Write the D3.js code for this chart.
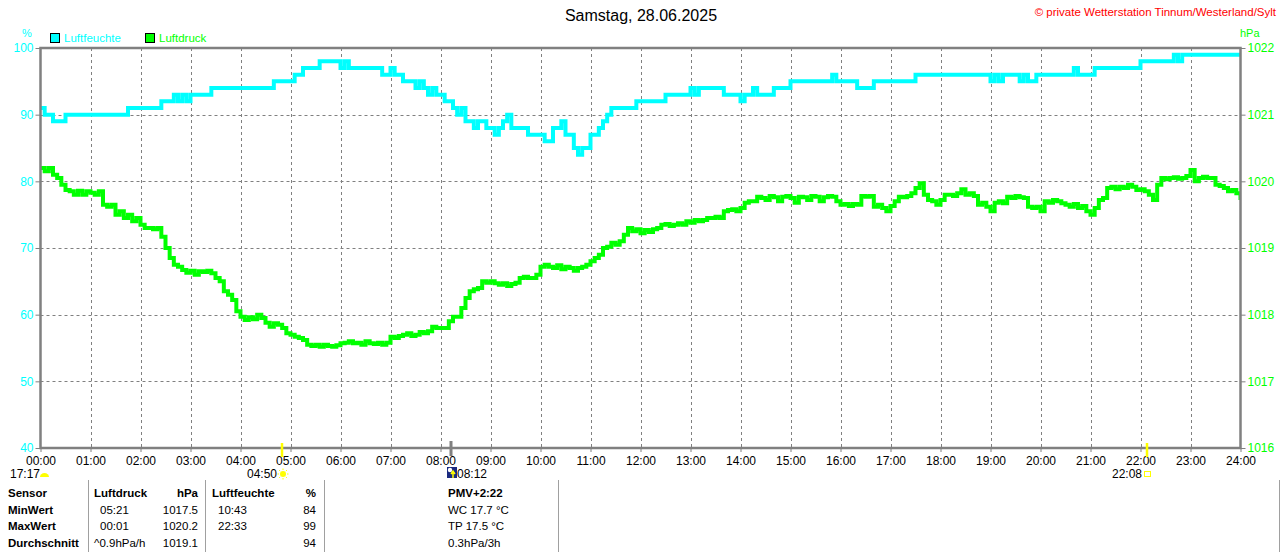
<!DOCTYPE html>
<html><head><meta charset="utf-8">
<script src="https://cdn.jsdelivr.net/npm/d3@7"></script>
<style>
html,body{margin:0;padding:0;background:#fff;}
svg{display:block;font-family:"Liberation Sans",Arial,sans-serif;}
</style></head>
<body>
<svg id="c" width="1280" height="552"></svg>
<script>
// ---------- DATA (5-minute values, 00:00 .. 24:00) ----------
const title = "Samstag, 28.06.2025";
const copyright = "© private Wetterstation Tinnum/Westerland/Sylt";
const hourLabels = ["00:00","01:00","02:00","03:00","04:00","05:00","06:00","07:00","08:00","09:00","10:00","11:00","12:00","13:00","14:00","15:00","16:00","17:00","18:00","19:00","20:00","21:00","22:00","23:00","24:00"];
const humidityTicks = [40,50,60,70,80,90,100];
const pressureTicks = [1016,1017,1018,1019,1020,1021,1022];
const seriesNames = ["Luftfeuchte","Luftdruck"];

const humidity = [
 91,90,90,89,89,89,90,90,90,90,90,90,
 90,90,90,90,90,90,90,90,90,91,91,91,
 91,91,91,91,91,92,92,92,93,92,93,92,
 93,93,93,93,93,94,94,94,94,94,94,94,
 94,94,94,94,94,94,94,94,95,95,95,95,
 95,96,96,97,97,97,97,98,98,98,98,98,
 97,98,97,97,97,97,97,97,97,97,96,96,
 97,96,96,95,95,95,94,95,94,93,94,93,
 93,92,92,91,90,91,89,89,88,89,89,88,
 88,87,88,89,90,88,88,88,88,87,87,87,
 87,86,86,88,88,89,87,87,85,84,85,85,
 87,87,88,89,90,91,91,91,91,91,91,92,
 92,92,92,92,92,92,93,93,93,93,93,93,
 94,93,94,94,94,94,94,94,93,93,93,93,
 92,93,93,94,93,93,93,93,94,94,94,94,
 95,95,95,95,95,95,95,95,95,95,96,95,
 95,95,95,95,94,94,94,94,95,95,95,95,
 95,95,95,95,95,95,96,96,96,96,96,96,
 96,96,96,96,96,96,96,96,96,96,96,96,
 95,96,95,96,96,96,96,95,96,95,95,96,
 96,96,96,96,96,96,96,96,97,96,96,96,
 96,97,97,97,97,97,97,97,97,97,97,97,
 98,98,98,98,98,98,98,98,99,98,99,99,
 99,99,99,99,99,99,99,99,99,99,99,99,
 99
];

const pressure = [
 1020.2,1020.15,1020.2,1020.1,1020.05,1019.95,1019.87,1019.85,1019.8,1019.86,1019.8,1019.85,
 1019.83,1019.8,1019.85,1019.65,1019.62,1019.65,1019.5,1019.55,1019.45,1019.5,1019.4,1019.45,
 1019.35,1019.3,1019.3,1019.28,1019.3,1019.17,1019.0,1018.85,1018.75,1018.72,1018.67,1018.63,
 1018.66,1018.6,1018.65,1018.64,1018.66,1018.62,1018.55,1018.5,1018.35,1018.3,1018.22,1018.05,
 1017.97,1017.92,1017.96,1017.93,1018.0,1017.95,1017.88,1017.82,1017.87,1017.85,1017.8,1017.72,
 1017.7,1017.67,1017.65,1017.62,1017.55,1017.53,1017.55,1017.52,1017.55,1017.53,1017.52,1017.54,
 1017.57,1017.58,1017.6,1017.57,1017.58,1017.55,1017.6,1017.57,1017.56,1017.58,1017.55,1017.58,
 1017.67,1017.65,1017.68,1017.7,1017.72,1017.68,1017.7,1017.74,1017.72,1017.75,1017.82,1017.8,
 1017.8,1017.8,1017.9,1017.97,1017.97,1018.1,1018.25,1018.35,1018.38,1018.4,1018.5,1018.48,
 1018.5,1018.47,1018.45,1018.47,1018.43,1018.46,1018.48,1018.55,1018.57,1018.55,1018.55,1018.6,
 1018.72,1018.75,1018.72,1018.7,1018.74,1018.68,1018.72,1018.7,1018.66,1018.7,1018.72,1018.75,
 1018.8,1018.85,1018.9,1019.0,1019.02,1019.08,1019.05,1019.1,1019.2,1019.3,1019.25,1019.28,
 1019.22,1019.27,1019.24,1019.28,1019.3,1019.35,1019.36,1019.33,1019.35,1019.37,1019.35,1019.4,
 1019.38,1019.42,1019.4,1019.42,1019.45,1019.45,1019.47,1019.45,1019.55,1019.57,1019.58,1019.55,
 1019.6,1019.68,1019.7,1019.7,1019.77,1019.75,1019.72,1019.78,1019.76,1019.7,1019.77,1019.78,
 1019.75,1019.68,1019.77,1019.76,1019.72,1019.78,1019.77,1019.7,1019.76,1019.78,1019.77,1019.7,
 1019.65,1019.66,1019.63,1019.66,1019.65,1019.78,1019.77,1019.78,1019.62,1019.65,1019.6,1019.55,
 1019.63,1019.7,1019.77,1019.76,1019.78,1019.82,1019.9,1019.97,1019.8,1019.72,1019.7,1019.65,
 1019.72,1019.8,1019.8,1019.78,1019.82,1019.88,1019.8,1019.82,1019.78,1019.65,1019.68,1019.62,
 1019.55,1019.68,1019.7,1019.67,1019.77,1019.75,1019.78,1019.76,1019.75,1019.62,1019.6,1019.62,
 1019.55,1019.7,1019.68,1019.72,1019.7,1019.67,1019.65,1019.62,1019.66,1019.6,1019.63,1019.55,
 1019.5,1019.6,1019.72,1019.75,1019.9,1019.92,1019.88,1019.92,1019.9,1019.95,1019.92,1019.87,
 1019.88,1019.85,1019.8,1019.72,1019.95,1020.05,1020.03,1020.05,1020.06,1020.04,1020.05,1020.08,
 1020.17,1020.0,1020.05,1020.07,1020.05,1020.05,1019.95,1019.93,1019.9,1019.85,1019.87,1019.82,
 1019.72
];

// events under the time axis
const sunTimes = ["04:50","22:08"];
const moonRise = "08:12";
const moonSet = "17:17";

// statistics table
const tableHeader = ["Sensor","Luftdruck","hPa","Luftfeuchte","%","PMV+2:22"];
const rowNames = ["MinWert","MaxWert","Durchschnitt"];
const pressTimes = ["05:21","00:01","^0.9hPa/h"];
const pressVals = ["1017.5","1020.2","1019.1"];
const humTimes = ["10:43","22:33",""];
const humVals = ["84","99","94"];
const extraInfo = ["WC 17.7 °C","TP 17.5 °C","0.3hPa/3h"];

// ---------- DRAW ----------
const svg = d3.select("#c");
const CYAN = "#00FFFF", GREEN = "#00FF00", GREY = "#808080";
const L = 40.5, R = 1240.5, T = 48, B = 448;
const toMin = s => { const [h,m] = s.split(":").map(Number); return h*60+m; };

const x = d3.scaleLinear().domain([0,1440]).range([L,R]);
const yH = d3.scaleLinear().domain([40,100]).range([B,T]);
const yP = d3.scaleLinear().domain([1016,1022]).range([B,T]);

// title & copyright
svg.append("text").attr("x",641).attr("y",21).attr("text-anchor","middle")
  .attr("font-size",16).attr("fill","#000").text(title);
svg.append("text").attr("x",1276).attr("y",16).attr("text-anchor","end")
  .attr("font-size",11.5).attr("fill","#FF0000").text(copyright);

// units
svg.append("text").attr("x",27).attr("y",37).attr("text-anchor","middle")
  .attr("font-size",11).attr("fill",CYAN).text("%");
svg.append("text").attr("x",1240).attr("y",37)
  .attr("font-size",11).attr("fill",GREEN).text("hPa");

// legend
const legend = [{name:seriesNames[0],c:CYAN,x:50},{name:seriesNames[1],c:GREEN,x:145}];
legend.forEach(d=>{
  svg.append("rect").attr("x",d.x+0.5).attr("y",33.5).attr("width",9).attr("height",9)
    .attr("fill",d.c).attr("stroke","#000").attr("stroke-width",1);
  svg.append("text").attr("x",d.x+14).attr("y",42).attr("font-size",11.5)
    .attr("fill",d.c).text(d.name);
});

// grid
const hourMins = hourLabels.map((_,i)=>i*60);
svg.append("g").selectAll("line").data(hourMins.slice(1,-1)).join("line")
  .attr("x1",d=>Math.round(x(d))+0.5).attr("x2",d=>Math.round(x(d))+0.5)
  .attr("y1",T).attr("y2",B)
  .attr("stroke",GREY).attr("stroke-width",1).attr("stroke-dasharray","3,3");
svg.append("g").selectAll("line").data(humidityTicks.slice(1,-1)).join("line")
  .attr("x1",L).attr("x2",R)
  .attr("y1",d=>Math.round(yH(d))+0.5).attr("y2",d=>Math.round(yH(d))+0.5)
  .attr("stroke",GREY).attr("stroke-width",1).attr("stroke-dasharray","3,3");

// axes
const axL = svg.append("g").attr("transform",`translate(${L},0)`)
  .call(d3.axisLeft(yH).tickValues(humidityTicks).tickFormat(d3.format("d")).tickSize(5).tickPadding(2));
axL.select(".domain").remove();
axL.selectAll("line").attr("stroke",GREY);
axL.selectAll("text").attr("fill",CYAN).attr("font-size",12).attr("font-family","Liberation Sans, Arial");

const axR = svg.append("g").attr("transform",`translate(${R},0)`)
  .call(d3.axisRight(yP).tickValues(pressureTicks).tickFormat(d3.format("d")).tickSize(5).tickPadding(2));
axR.select(".domain").remove();
axR.selectAll("line").attr("stroke",GREY);
axR.selectAll("text").attr("fill",GREEN).attr("font-size",12).attr("font-family","Liberation Sans, Arial");

const axB = svg.append("g").attr("transform",`translate(0,${B})`)
  .call(d3.axisBottom(x).tickValues(hourMins).tickFormat((d,i)=>hourLabels[i]).tickSize(4).tickPadding(4));
axB.select(".domain").remove();
axB.selectAll("line").attr("stroke",GREY);
axB.selectAll("text").attr("fill","#000").attr("font-size",12).attr("font-family","Liberation Sans, Arial");

// clip + series
svg.append("clipPath").attr("id","clip").append("rect")
  .attr("x",L).attr("y",T-2).attr("width",R-L).attr("height",B-T+4);

const step = 1440/(humidity.length-1);
const lineH = d3.line().x((d,i)=>x(i*step)).y(d=>yH(d)).curve(d3.curveStepAfter);
const stepP = 1440/(pressure.length-1);
const lineP = d3.line().x((d,i)=>x(i*stepP)).y(d=>yP(d)).curve(d3.curveStepAfter);

const plot = svg.append("g").attr("clip-path","url(#clip)");
plot.append("path").datum(pressure).attr("d",lineP)
  .attr("fill","none").attr("stroke",GREEN).attr("stroke-width",4);
plot.append("path").datum(humidity).attr("d",lineH)
  .attr("fill","none").attr("stroke",CYAN).attr("stroke-width",4);

// frame
svg.append("rect").attr("x",L).attr("y",T).attr("width",R-L).attr("height",B-T)
  .attr("fill","none").attr("stroke",GREY).attr("stroke-width",2.5);

// event markers
const YEL = "#FFFF00";
sunTimes.forEach((t,i)=>{
  const px = Math.round(x(toMin(t)));
  svg.append("line").attr("x1",px).attr("x2",px).attr("y1",443).attr("y2",457)
    .attr("stroke",YEL).attr("stroke-width",2.5);
  svg.append("text").attr("x",px-5).attr("y",478).attr("text-anchor","end")
    .attr("font-size",12).attr("fill","#000").text(t);
  if(i===0){
    const g = svg.append("g").attr("transform",`translate(${px+1},474)`);
    g.append("circle").attr("r",3).attr("fill",YEL);
    d3.range(8).forEach(k=>{
      const a = k*Math.PI/4;
      g.append("line").attr("x1",Math.cos(a)*4).attr("y1",Math.sin(a)*4)
        .attr("x2",Math.cos(a)*5.5).attr("y2",Math.sin(a)*5.5)
        .attr("stroke",YEL).attr("stroke-width",1);
    });
  } else {
    svg.append("rect").attr("x",px-2.5).attr("y",471.5).attr("width",6).attr("height",5)
      .attr("fill","none").attr("stroke",YEL).attr("stroke-width",1);
  }
});
{
  const px = Math.round(x(toMin(moonRise)));
  svg.append("line").attr("x1",px).attr("x2",px).attr("y1",441).attr("y2",456)
    .attr("stroke",GREY).attr("stroke-width",3);
  svg.append("rect").attr("x",px-4).attr("y",467).attr("width",10).attr("height",11).attr("fill","#1a2a80");
  svg.append("circle").attr("cx",px-1).attr("cy",470).attr("r",2.2).attr("fill","#fff");
  svg.append("path").attr("d",`M${px+2},478 L${px+2},472 M${px},474 L${px+2},471 L${px+4},474`)
    .attr("stroke",YEL).attr("stroke-width",1.5).attr("fill","none");
  svg.append("text").attr("x",px+6).attr("y",478).attr("font-size",12).attr("fill","#000").text(moonRise);
}
svg.append("text").attr("x",10).attr("y",478).attr("font-size",12).attr("fill","#000").text(moonSet);
svg.append("path").attr("d","M40,477 A4.5,4 0 0 1 49,477 Z").attr("fill",YEL);

// table
const rowY = [497,514,530,547];
const sepX = [88,205,324,558,1279];
sepX.forEach(sx=>svg.append("line").attr("x1",sx+0.5).attr("x2",sx+0.5).attr("y1",480).attr("y2",552)
  .attr("stroke","#A0A0A0").attr("stroke-width",1));
const tbl = svg.append("g").attr("font-size",11.5).attr("fill","#000");
const bold = (xx,yy,t,anchor)=>tbl.append("text").attr("x",xx).attr("y",yy).attr("font-weight","bold")
  .attr("text-anchor",anchor||"start").text(t);
const norm = (xx,yy,t,anchor)=>tbl.append("text").attr("x",xx).attr("y",yy)
  .attr("text-anchor",anchor||"start").text(t);
bold(8,rowY[0],tableHeader[0]);
bold(94,rowY[0],tableHeader[1]);
bold(198,rowY[0],tableHeader[2],"end");
bold(212,rowY[0],tableHeader[3]);
bold(316,rowY[0],tableHeader[4],"end");
bold(448,rowY[0],tableHeader[5]);
rowNames.forEach((n,i)=>{
  const yy = rowY[i+1];
  bold(8,yy,n);
  norm(i<2?100:94,yy,pressTimes[i]);
  norm(198,yy,pressVals[i],"end");
  norm(218,yy,humTimes[i]);
  norm(316,yy,humVals[i],"end");
  norm(448,yy,extraInfo[i]);
});
</script>
</body></html>
